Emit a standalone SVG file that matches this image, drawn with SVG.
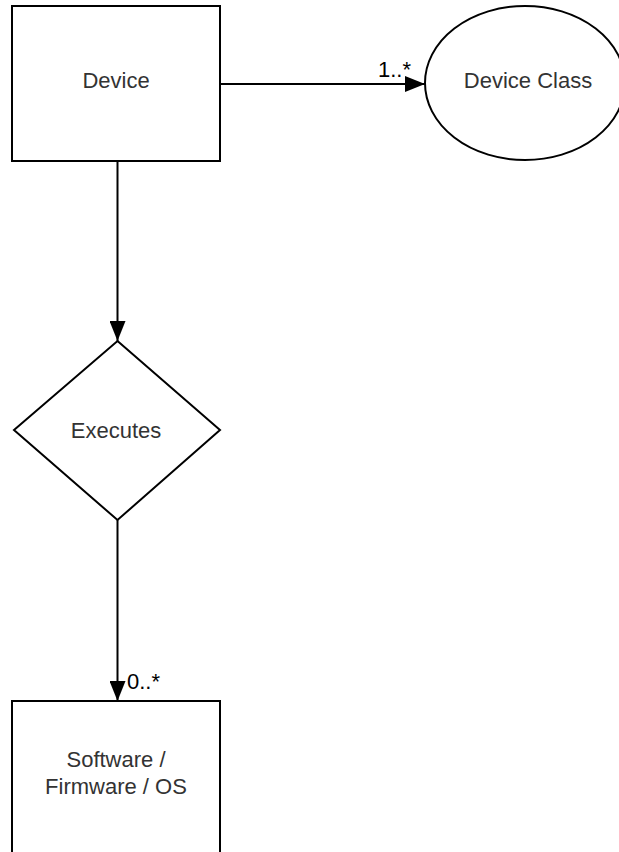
<svg xmlns="http://www.w3.org/2000/svg" width="619" height="852" viewBox="0 0 619 852">
<defs>
<style>
.shape{fill:#ffffff;stroke:#000000;stroke-width:2}
.lbl{font-family:"Liberation Sans",Arial,sans-serif;font-size:22px;fill:#333333;text-anchor:middle}
.card{font-family:"Liberation Sans",Arial,sans-serif;font-size:22px;fill:#000000}
.conn{fill:none;stroke:#000000;stroke-width:2}
</style>
<marker id="arrow" markerWidth="20" markerHeight="16" refX="20" refY="8" orient="auto" markerUnits="userSpaceOnUse">
<path d="M0,0 L20,8 L0,16 Z" fill="#000000"/>
</marker>
</defs>
<rect width="619" height="852" fill="#ffffff"/>
<g id="connectors">
<line class="conn" x1="220" y1="84" x2="425" y2="84" marker-end="url(#arrow)"/>
<line class="conn" x1="117.5" y1="161" x2="117.5" y2="341" marker-end="url(#arrow)"/>
<line class="conn" x1="117.5" y1="520" x2="117.5" y2="701" marker-end="url(#arrow)"/>
<text class="card" x="378" y="77">1..*</text>
<text class="card" x="127" y="689">0..*</text>
</g>
<g id="device">
<rect class="shape" x="12" y="6" width="208" height="155"/>
<text class="lbl" x="116" y="88">Device</text>
</g>
<g id="device-class">
<ellipse class="shape" cx="525" cy="83" rx="100" ry="77"/>
<text class="lbl" x="528" y="88">Device Class</text>
</g>
<g id="executes">
<polygon class="shape" points="117.5,341 220,430 117.5,520 14,430"/>
<text class="lbl" x="116" y="438">Executes</text>
</g>
<g id="software">
<rect class="shape" x="12" y="701" width="208" height="160"/>
<text class="lbl" x="116" y="767">Software /</text>
<text class="lbl" x="116" y="794">Firmware / OS</text>
</g>
</svg>
